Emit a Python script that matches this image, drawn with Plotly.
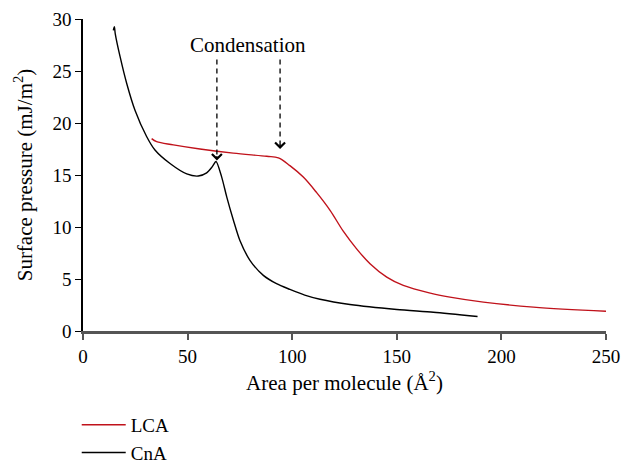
import plotly.graph_objects as go

# CnA (black) isotherm
cna_area = [14.5, 15.0, 15.4, 17.7, 20.9, 24.9, 30.4, 34.4, 41.6, 49.6, 55.1, 59.1, 61.8, 63.6,
            66.3, 68.7, 71.9, 75.0, 79.8, 86.2, 92.5, 98.9, 106.0, 113.3, 127.6, 150.0, 167.5, 188.6]
cna_pressure = [28.9, 29.25, 28.6, 26.4, 23.8, 21.2, 18.7, 17.4, 16.1, 15.1, 14.9, 15.2, 15.8, 16.3,
                14.8, 12.9, 10.65, 8.7, 6.8, 5.35, 4.55, 4.0, 3.45, 3.05, 2.55, 2.07, 1.81, 1.4]

# LCA (red) isotherm
lca_area = [32.8, 35.2, 43.2, 55.9, 71.8, 87.8, 93.4, 98.9, 105.3, 111.7, 118.1, 124.4, 130.8,
            137.2, 145.2, 153.1, 166.0, 175.4, 191.4, 215.3, 250.0]
lca_pressure = [18.5, 18.2, 17.9, 17.5, 17.1, 16.8, 16.65, 15.9, 14.8, 13.3, 11.6, 9.6, 7.9,
                6.47, 5.18, 4.38, 3.64, 3.26, 2.78, 2.3, 1.9]

x_ticks = [0, 50, 100, 150, 200, 250]
y_ticks = [0, 5, 10, 15, 20, 25, 30]

arrow_x = [64.0, 94.2]
arrow_top = [26.1, 26.1]
arrow_tip = [16.4, 17.5]
label_text = "Condensation"

FONT = "Liberation Serif"

fig = go.Figure()
fig.add_trace(go.Scatter(x=lca_area, y=lca_pressure, mode="lines", name="LCA",
                         line=dict(color="#c0121b", width=1.4, shape="spline", smoothing=1.0)))
fig.add_trace(go.Scatter(x=cna_area, y=cna_pressure, mode="lines", name="CnA",
                         line=dict(color="black", width=1.4, shape="spline", smoothing=0.7)))

for ax_, top, tip in zip(arrow_x, arrow_top, arrow_tip):
    fig.add_shape(type="line", x0=ax_, x1=ax_, y0=top, y1=tip + 0.3, xref="x", yref="y",
                  line=dict(color="black", width=1.3, dash="5px,4px"))
    fig.add_annotation(x=ax_, y=tip, ax=0, ay=-6, xref="x", yref="y", text="",
                       showarrow=True, arrowhead=4, arrowsize=1.6, arrowwidth=1.2,
                       arrowcolor="black")

fig.add_annotation(x=(arrow_x[0] + arrow_x[1]) / 2, y=27.5, xref="x", yref="y",
                   text=label_text, showarrow=False,
                   font=dict(family=FONT, size=21, color="black"))

fig.update_layout(
    width=622, height=462,
    margin=dict(l=83, r=16, t=19, b=131, autoexpand=False),
    paper_bgcolor="white", plot_bgcolor="white",
    font=dict(family=FONT, size=19, color="black"),
    showlegend=True,
    legend=dict(x=-0.012, y=-0.24, xanchor="left", yanchor="top",
                font=dict(family=FONT, size=19), tracegroupgap=0, itemwidth=44,
                bgcolor="rgba(0,0,0,0)"),
)
fig.update_xaxes(range=[0, 250], tickvals=x_ticks, ticks="outside", ticklen=6,
                 tickcolor="#555555", tickwidth=1.5, automargin=False,
                 tickfont=dict(family=FONT, size=19),
                 showline=True, linecolor="#555555", linewidth=2.5, showgrid=False, zeroline=False,
                 title=dict(text="Area per molecule (Å<sup>2</sup>)", standoff=10,
                            font=dict(family=FONT, size=21)))
fig.update_yaxes(range=[0, 30], tickvals=y_ticks, ticks="outside", ticklen=6,
                 tickcolor="black", tickwidth=1.2, automargin=False,
                 tickfont=dict(family=FONT, size=19),
                 showline=True, linecolor="black", linewidth=1.5, showgrid=False, zeroline=False,
                 title=dict(text="Surface pressure (mJ/m<sup>2</sup>)", standoff=14,
                            font=dict(family=FONT, size=21)))

fig.write_html("out.html", config={"displayModeBar": False},
               post_script="document.body.style.margin='0';")
